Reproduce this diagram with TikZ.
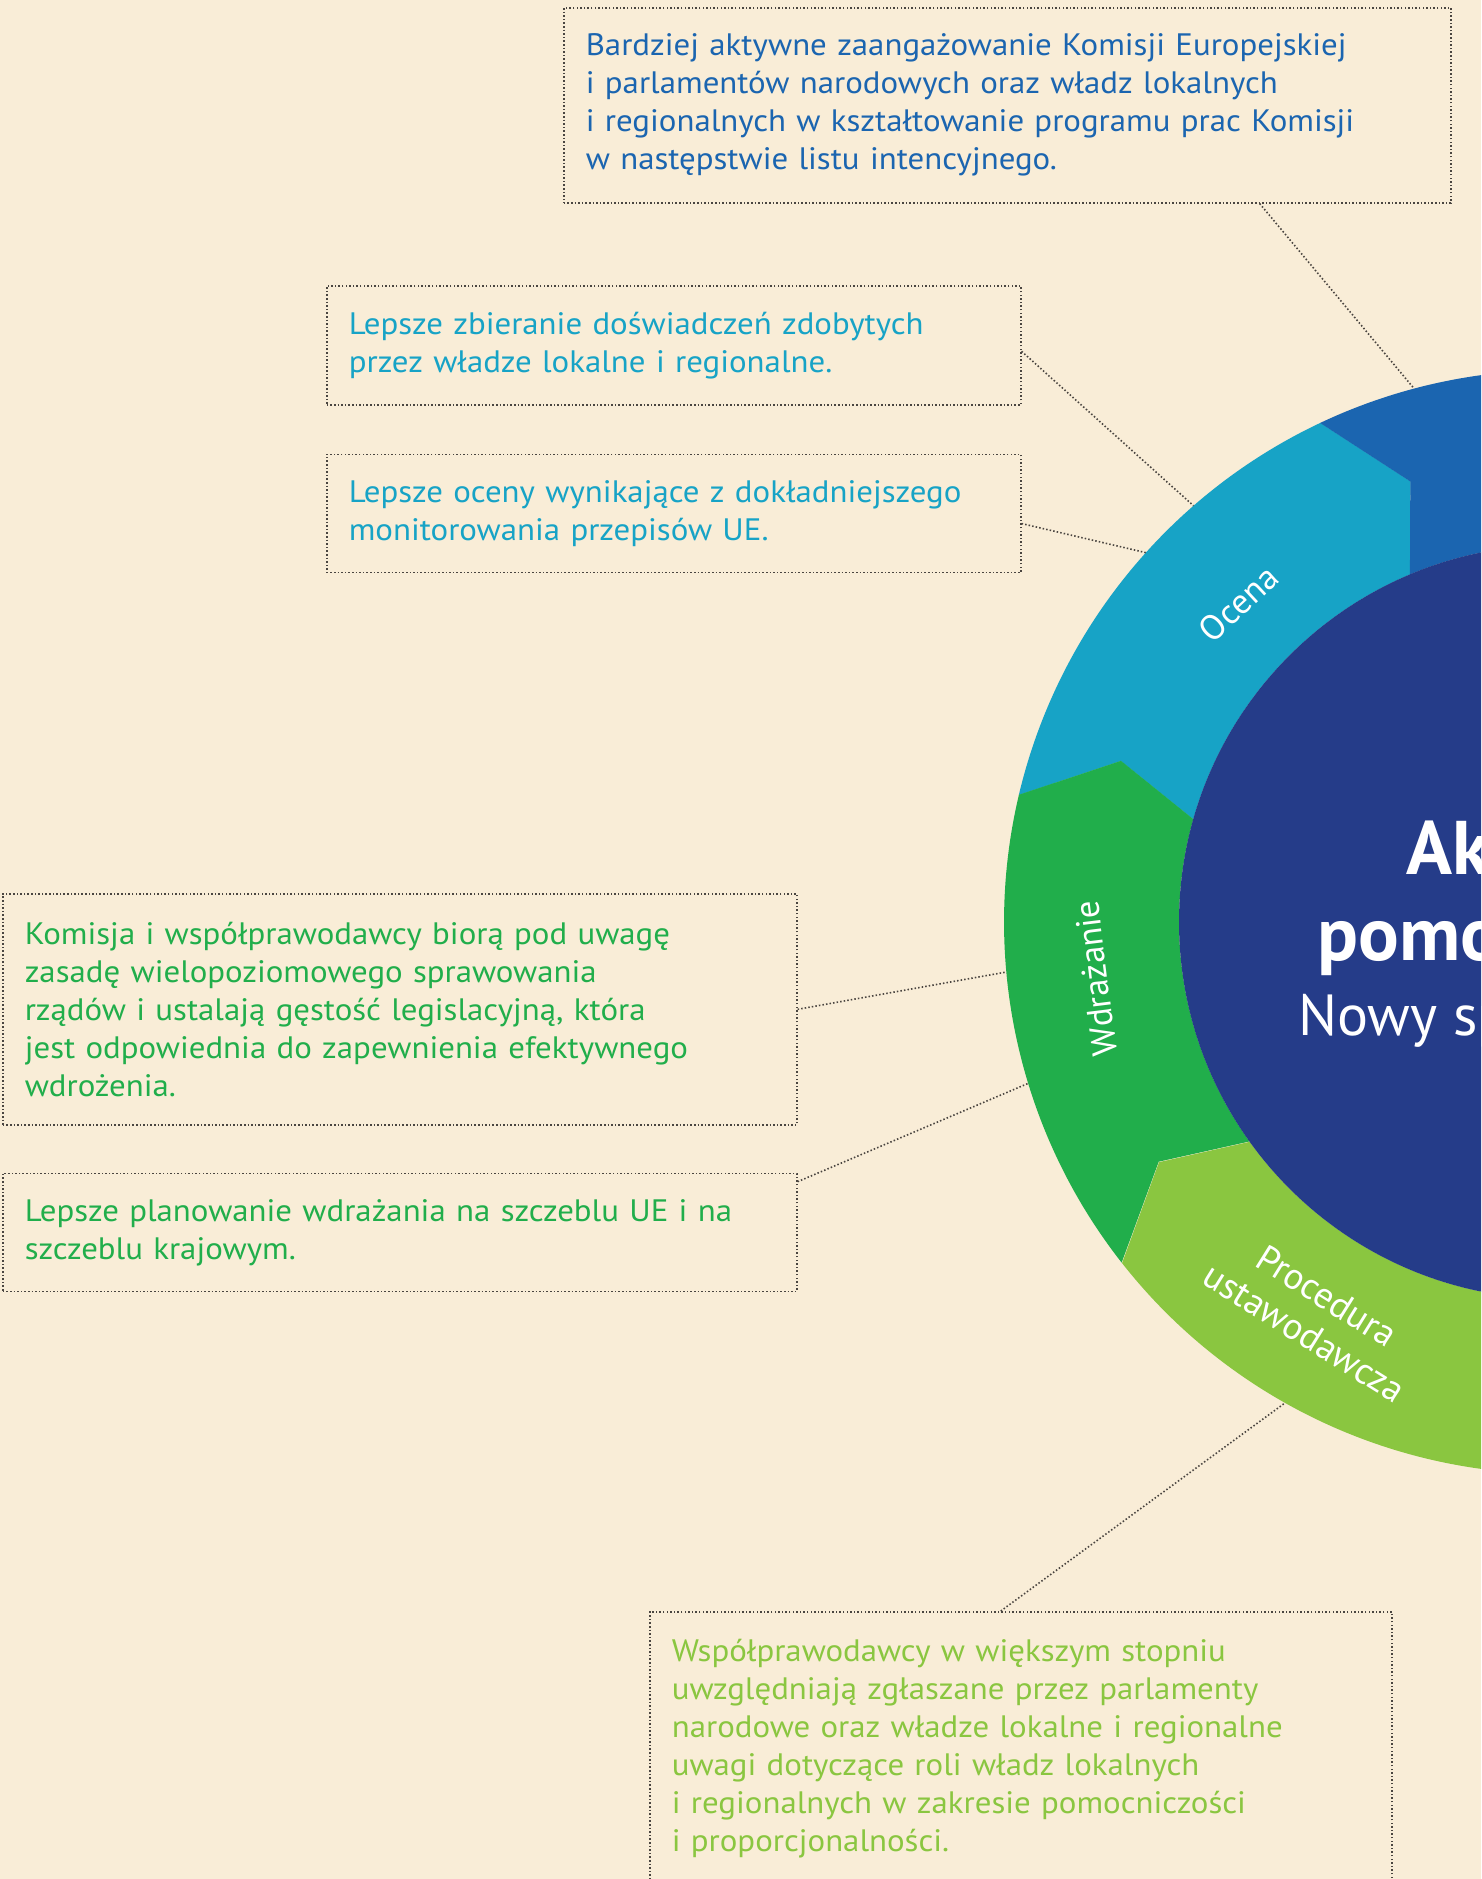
\documentclass[tikz,border=0pt]{standalone}
\usepackage{fontspec}
\setmainfont{PT Sans}
\newfontfamily\notefont[FakeStretch=1.06]{PT Sans}
\usetikzlibrary{positioning, calc}
\definecolor{paper}{HTML}{F9EDD7}
\definecolor{navy}{HTML}{253C89}
\definecolor{euroblue}{HTML}{1B65B0}
\definecolor{oceanblue}{HTML}{17A3C6}
\definecolor{leafgreen}{HTML}{21AE4B}
\definecolor{limegreen}{HTML}{8AC640}
\definecolor{dotgray}{HTML}{4A4540}

\begin{document}
\begin{tikzpicture}[x=1pt, y=1pt,
  dots/.style={draw=dotgray, line width=1.6pt, dash pattern=on 1.5pt off 2.1pt},
  note/.style={dots, rectangle, anchor=north west, inner xsep=22pt, inner ysep=0pt, align=left, text width=#1, font=\notefont\fontsize{31}{38}\selectfont},
  ringlabel/.style={text=white, inner sep=0pt, font=\fontsize{35}{43}\selectfont},
  title/.style={text=white, inner sep=0pt, anchor=base west}]

\useasboundingbox (0,0) rectangle (1481,-1879);
\clip (0,0) rectangle (1481,-1879);
\fill[paper] (0,0) rectangle (1481,-1879);

% Ring

\coordinate (ctr) at (1556,-922);
\foreach \lo/\col in {159.7/oceanblue, 211.1/leafgreen, 262.6/limegreen, 108.3/euroblue}
  \fill[\col, shift={(ctr)}] ({\lo+7}:552) arc[start angle={\lo+7}, end angle={\lo-44.43}, radius=552]
    -- ({\lo-51.43}:464) -- ({\lo-46.93}:377) arc[start angle={\lo-46.93}, end angle={\lo+4.5}, radius=377]
    -- (\lo:464) -- cycle;
\fill[navy] (ctr) circle[radius=377];

\node[ringlabel, rotate=43] (ocena) at ($(ctr)+(134.9:450)$) {Ocena};
\node[ringlabel, rotate=97] (wdrazanie) at ($(ctr)+(187:464)$) {Wdrażanie};
\node[ringlabel, rotate=-32, align=center, font=\fontsize{37}{43}\selectfont] (procedura) at ($(ctr)+(238.5:460)$) {Procedura\\ustawodawcza};

\node[title, font=\fontsize{76}{80}\bfseries] (aktywna) at (1406,-874) {Aktywna};
\node[title, font=\fontsize{76}{80}\bfseries] (pomoc) at (1317,-960) {pomocniczość};
\node[title, font=\fontsize{58}{62}\selectfont] (sposob) at (1298,-1035) {Nowy sposób pracy};

% Notes

\node[note=843pt, text=euroblue, minimum height=195pt] (letter) at (563,-7)
{Bardziej aktywne zaangażowanie Komisji Europejskiej\\
i parlamentów narodowych oraz władz lokalnych\\
i regionalnych w kształtowanie programu prac Komisji\\
w następstwie listu intencyjnego.};

\node[note=650pt, text=oceanblue, minimum height=119pt] (experience) at (326,-285)
{Lepsze zbieranie doświadczeń zdobytych\\
przez władze lokalne i regionalne.};

\node[note=650pt, text=oceanblue, minimum height=118pt, below=48pt of experience.south west, anchor=north west] (monitoring)
{Lepsze oceny wynikające z dokładniejszego\\
monitorowania przepisów UE.};

\node[note=750pt, text=leafgreen, minimum height=231pt] (density) at (2,-893)
{Komisja i współprawodawcy biorą pod uwagę\\
zasadę wielopoziomowego sprawowania\\
rządów i ustalają gęstość legislacyjną, która\\
jest odpowiednia do zapewnienia efektywnego\\
wdrożenia.};

\node[note=750pt, text=leafgreen, minimum height=118pt, below=47pt of density.south west, anchor=north west] (planning)
{Lepsze planowanie wdrażania na szczeblu UE i na\\
szczeblu krajowym.};

\node[note=698pt, text=limegreen, minimum height=273pt] (colegislators) at (649,-1611)
{Współprawodawcy w większym stopniu\\
uwzględniają zgłaszane przez parlamenty\\
narodowe oraz władze lokalne i regionalne\\
uwagi dotyczące roli władz lokalnych\\
i regionalnych w zakresie pomocniczości\\
i proporcjonalności.};

% Leaders

\draw[dots] ($(letter.south west)!0.784!(letter.south east)$) -- ($(ctr)+(104.9:552)$);
\draw[dots] ($(experience.north east)!0.55!(experience.south east)$) -- ($(ctr)+(131.05:552)$);
\draw[dots] ($(monitoring.north east)!0.585!(monitoring.south east)$) -- ($(ctr)+(138:552)$);
\draw[dots] (density.east) -- ($(ctr)+(185.2:552)$);
\draw[dots] ($(planning.north east)!0.076!(planning.south east)$) -- ($(ctr)+(197:552)$);
\draw[dots] ($(colegislators.north west)!0.473!(colegislators.north east)$) -- ($(ctr)+(240.6:552)$);

\end{tikzpicture}
\end{document}
